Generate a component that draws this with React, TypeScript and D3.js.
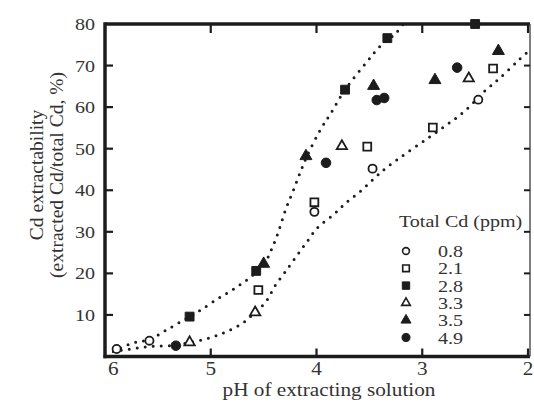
import React from "react";
import * as d3 from "d3";

// pH of extracting solution vs Cd extractability (%), by total Cd (ppm)
const phTicks = [6, 5, 4, 3, 2];
const pctTicks = [10, 20, 30, 40, 50, 60, 70, 80];

const ph08 = [5.89, 5.58, 4.02, 3.47, 2.47];
const cd08 = [1.8, 3.8, 34.8, 45.2, 61.8];
const ph21 = [4.55, 4.02, 3.52, 2.9, 2.33];
const cd21 = [16.0, 37.1, 50.5, 55.1, 69.3];
const ph28 = [5.2, 4.57, 3.73, 3.33, 2.5];
const cd28 = [9.6, 20.6, 64.2, 76.6, 80];
const ph33 = [5.2, 4.58, 3.76, 2.56];
const cd33 = [3.4, 10.6, 50.6, 66.9];
const ph35 = [4.5, 4.1, 3.46, 2.88, 2.28];
const cd35 = [22.3, 48.2, 65.1, 66.5, 73.5];
const ph49 = [5.33, 3.91, 3.43, 3.36, 2.67];
const cd49 = [2.6, 46.6, 61.7, 62.2, 69.5];

const upperPh = [5.92, 5.73, 5.59, 5.41, 5.2, 5.1, 4.94, 4.79, 4.64, 4.5, 4.43, 4.37, 4.29, 4.22, 4.16, 4.09, 3.96, 3.87, 3.73, 3.52, 3.4, 3.25, 3.18];
const upperPct = [1.2, 3.3, 4.0, 6.5, 9.6, 11.1, 13.8, 16.1, 18.8, 22.0, 25.5, 29.3, 35.5, 39.9, 43.9, 48.2, 54.7, 58.3, 64.2, 71.0, 74.6, 77.8, 80];
const lowerPh = [5.92, 5.57, 5.33, 5.2, 5.02, 4.86, 4.7, 4.58, 4.48, 4.39, 4.3, 4.19, 4.09, 3.99, 3.84, 3.72, 3.59, 3.46, 3.34, 2.81, 2.6, 2.4, 2.27, 2.1, 2.0];
const lowerPct = [1.2, 2.4, 2.7, 3.4, 4.4, 5.9, 8.0, 10.7, 13.1, 17.1, 20.2, 24.1, 27.6, 31.0, 34.1, 37.0, 39.6, 42.7, 45.4, 55.0, 59.0, 64.1, 66.9, 71.0, 73.4];

const legendLabels = ["0.8", "2.1", "2.8", "3.3", "3.5", "4.9"];

const INK = "#1c1c1c";
const FONT = "'Liberation Serif', 'Times New Roman', serif";

type Mark = { shape: d3.SymbolType; open: boolean; size: number };
const marks: Mark[] = [
  { shape: d3.symbolCircle, open: true, size: 52 },
  { shape: d3.symbolSquare, open: true, size: 62 },
  { shape: d3.symbolSquare, open: false, size: 78 },
  { shape: d3.symbolTriangle, open: true, size: 46 },
  { shape: d3.symbolTriangle, open: false, size: 62 },
  { shape: d3.symbolCircle, open: false, size: 72 },
];
const seriesPh = [ph08, ph21, ph28, ph33, ph35, ph49];
const seriesCd = [cd08, cd21, cd28, cd33, cd35, cd49];

const App = () => {
  const x = d3.scaleLinear().domain([6, 2]).range([105, 528]);
  const y = d3.scaleLinear().domain([0, 80]).range([356.5, 24]);
  const line = d3
    .line<[number, number]>()
    .x(d => x(d[0]))
    .y(d => y(d[1]))
    .curve(d3.curveCatmullRom);

  const upper = line(upperPh.map((p, i) => [p, upperPct[i]]));
  const lower = line(lowerPh.map((p, i) => [p, lowerPct[i]]));

  const sx = "scale(1.18,1)";
  const left = x(6), right = x(2) + 2, top = y(80), bottom = y(0);

  return (
    <svg width={534} height={411} style={{ position: "absolute", left: 0, top: 0 }} fontFamily={FONT}>
      <rect width={534} height={411} fill="#fff" />

      {/* dotted trend curves */}
      <path d={upper || ""} fill="none" stroke={INK} strokeWidth={3} strokeDasharray="0 8" strokeLinecap="round" />
      <path d={lower || ""} fill="none" stroke={INK} strokeWidth={3} strokeDasharray="0 8" strokeLinecap="round" />

      {/* frame */}
      <line x1={left} x2={right} y1={top} y2={top} stroke={INK} strokeWidth={3.5} />
      <line x1={left - 1.5} x2={right} y1={bottom} y2={bottom} stroke={INK} strokeWidth={3.5} />
      <line x1={left} x2={left} y1={top - 1.7} y2={bottom + 1.7} stroke={INK} strokeWidth={3.5} />
      <line x1={right} x2={right} y1={top} y2={bottom} stroke="#555" strokeWidth={1.5} />

      {pctTicks.slice(0, -1).map(t => (
        <g key={"yt" + t}>
          <line x1={left} x2={left + 8} y1={y(t)} y2={y(t)} stroke={INK} strokeWidth={2.2} />
          <line x1={right - 6} x2={right} y1={y(t)} y2={y(t)} stroke={INK} strokeWidth={2} />
        </g>
      ))}
      {phTicks.slice(1).map(t => (
        <g key={"xt" + t}>
          <line x1={x(t)} x2={x(t)} y1={bottom} y2={bottom - 8} stroke={INK} strokeWidth={2.2} />
          <line x1={x(t)} x2={x(t)} y1={top} y2={top + 9} stroke={INK} strokeWidth={2.2} />
        </g>
      ))}

      {/* tick labels */}
      {pctTicks.map(t => (
        <text key={"yl" + t} transform={`translate(${left - 10},${y(t) + 6}) ${sx}`} textAnchor="end" fontSize={17} fill="#333">
          {t}
        </text>
      ))}
      {phTicks.map((t, i) => (
        <text
          key={"xl" + t}
          transform={`translate(${i === 0 ? x(t) + 3 : x(t)},${375}) ${sx}`}
          textAnchor={i === 0 ? "start" : "middle"}
          fontSize={18}
          fill="#333"
        >
          {t}
        </text>
      ))}

      {/* axis titles */}
      <text transform={`translate(329,396) ${sx}`} textAnchor="middle" fontSize={18} fill="#333">
        pH of extracting solution
      </text>
      <text transform="translate(43,175) rotate(-90)" textAnchor="middle" fontSize={19.5} fill="#333">
        Cd extractability
      </text>
      <text transform="translate(63,175) rotate(-90)" textAnchor="middle" fontSize={19.5} fill="#333">
        (extracted Cd/total Cd, %)
      </text>

      {/* data points */}
      {seriesPh.map((phs, s) =>
        phs.map((p, i) => (
          <path
            key={`p${s}-${i}`}
            d={d3.symbol(marks[s].shape, marks[s].size)() || ""}
            transform={`translate(${x(p)},${y(seriesCd[s][i])})`}
            fill={marks[s].open ? "#fff" : INK}
            stroke={INK}
            strokeWidth={marks[s].open ? 1.8 : 1}
          />
        ))
      )}

      {/* legend */}
      <text transform={`translate(399,227) ${sx}`} fontSize={17} fill="#333">
        Total Cd (ppm)
      </text>
      {legendLabels.map((lab, i) => (
        <g key={"lg" + lab} transform={`translate(0,${251 + i * 17.3})`}>
          <path
            d={d3.symbol(marks[i].shape, marks[i].size * 0.7)() || ""}
            transform="translate(406,0)"
            fill={marks[i].open ? "#fff" : INK}
            stroke={INK}
            strokeWidth={marks[i].open ? 1.6 : 1}
          />
          <text transform={`translate(438,6) ${sx}`} fontSize={17} fill="#333">
            {lab}
          </text>
        </g>
      ))}
    </svg>
  );
};

export default App;
